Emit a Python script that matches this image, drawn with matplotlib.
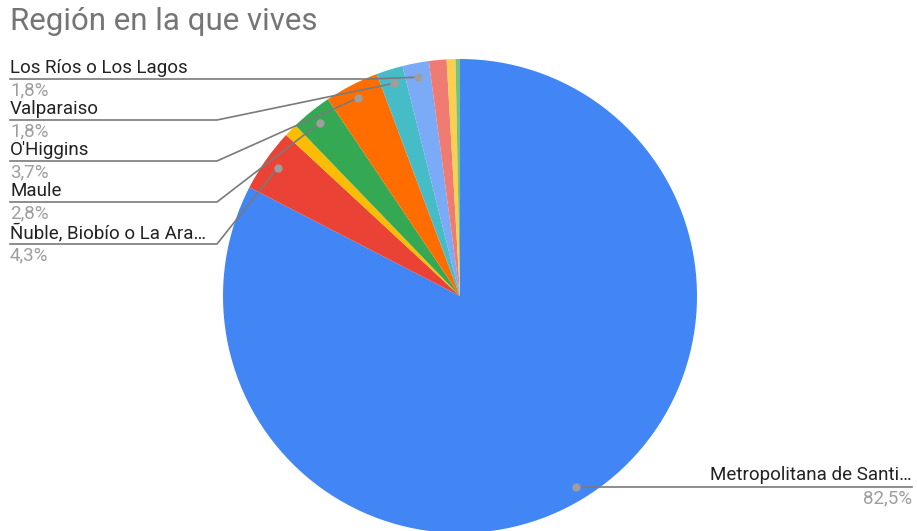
import numpy as np
import matplotlib.pyplot as plt

plt.rcParams['font.family'] = ['Roboto', 'DejaVu Sans']

labels = ['Metropolitana de Santi…', 'Ñuble, Biobío o La Ara…', 'Otra 1', 'Maule',
          "O'Higgins", 'Valparaiso', 'Los Ríos o Los Lagos', 'Otra 2', 'Otra 3', 'Otra 4']
values = [82.5, 4.3, 0.9, 2.8, 3.7, 1.8, 1.8, 1.2, 0.6, 0.3]
colors = ['#4285F4', '#EA4335', '#FBBC04', '#34A853', '#FF6D01',
          '#46BDC6', '#7BAAF7', '#F07B72', '#FCD04F', '#71C287']

# left side labels: (index, text row y, elbow x) in pixel coords (y from top)
left_labels = [(6, 68, 370), (5, 109, 217), (4, 150, 217), (3, 191, 217), (1, 233, 217)]

W, H = 917, 531
fig = plt.figure(figsize=(W / 100, H / 100), dpi=100)
ax = fig.add_axes([0, 0, 1, 1])

cx, cy, r = 460, H - 296, 237
wedges, _ = ax.pie(values, colors=colors, startangle=90, counterclock=False,
                   center=(cx, cy), radius=r, wedgeprops=dict(linewidth=0))
ax.set_xlim(0, W)
ax.set_ylim(0, H)
ax.set_aspect('equal')
ax.axis('off')

total = sum(values)


def dot_pos(i):
    # point at 94% of the radius on the middle of slice i
    before = sum(values[:i]) + values[i] / 2
    ang = np.deg2rad(90 - 360 * before / total)
    return cx + 0.94 * r * np.cos(ang), cy + 0.94 * r * np.sin(ang)


line_c = '#7a7a7a'
fs = 13.5
for i, ty, ex in left_labels:
    dx, dy = dot_pos(i)
    ly = H - (ty + 11)
    ax.plot([10, ex, dx], [ly, ly, dy], color=line_c, lw=1.2, zorder=5)
    ax.plot(dx, dy, 'o', color='#9e9e9e', ms=5, zorder=6)
    ax.text(10, H - ty, labels[i], fontsize=fs, color='#222222', va='center', ha='left')
    ax.text(10, H - (ty + 22), f'{values[i]:.1f}%'.replace('.', ','),
            fontsize=fs, color='#9e9e9e', va='center', ha='left')

# Metropolitana label on the right
dx, dy = dot_pos(0)
ly = H - 487
ax.plot([dx, 912], [ly, ly], color=line_c, lw=1.2, zorder=5)
ax.plot(dx, ly, 'o', color='#9e9e9e', ms=5, zorder=6)
ax.text(912, H - 475, labels[0], fontsize=fs, color='#222222', va='center', ha='right')
ax.text(912, H - 498, f'{values[0]:.1f}%'.replace('.', ','),
        fontsize=fs, color='#9e9e9e', va='center', ha='right')

fig.text(10 / W, 1 - 22 / H, 'Región en la que vives', fontsize=22.5,
         color='#757575', va='center', ha='left')

fig.savefig('out.png', dpi=100)
